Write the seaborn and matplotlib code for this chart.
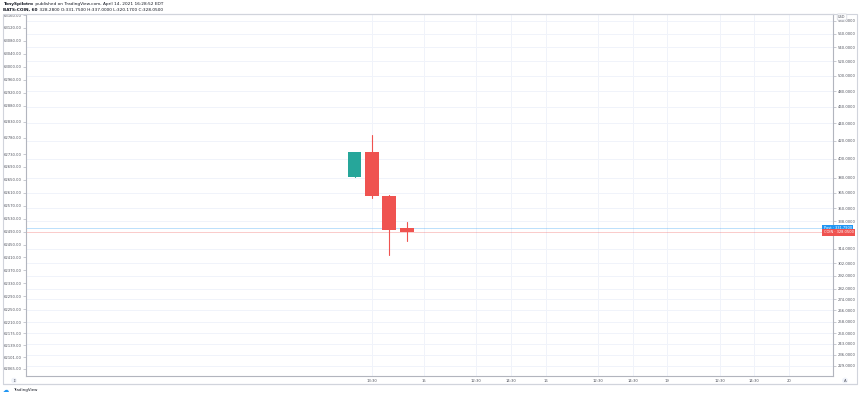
import matplotlib
matplotlib.use('Agg')
import matplotlib.pyplot as plt
import matplotlib.transforms as mtransforms
from matplotlib.patches import Rectangle
import numpy as np
import pandas as pd
import seaborn as sns

# Hourly COIN candles (bar index counted from 14th 9:30)
bar_idx = [3, 4, 5, 6]
opens = [381.0, 407.0, 362.0, 331.75]
highs = [407.2, 426.6, 363.0, 337.0]
lows = [381.0, 360.0, 308.7, 320.17]
closes = [407.2, 362.0, 330.0, 328.05]

post_price = 331.79
last_price = 328.05

# Time scale
xtick_pos = [4, 7, 10, 12, 14, 17, 19, 21, 24, 26, 28]
xtick_labels = ['13:30', '15', '12:30', '14:30', '16', '12:30', '14:30', '19', '12:30', '14:30', '20']

# Right price scale (log)
right_ticks = [580, 560, 540, 520, 500, 480, 460, 440, 420, 400, 380, 365, 350, 338,
               314, 302, 292, 282, 274, 266, 258, 250, 243, 236, 229]

# Left overlay scale
left_ticks = [63160, 63120, 63080, 63040, 63000, 62960, 62920, 62880, 62830, 62780, 62730,
              62690, 62650, 62610, 62570, 62530, 62490, 62450, 62410, 62370, 62330, 62290,
              62250, 62210, 62175, 62139, 62101, 62065]

header_user = 'TonySpilotro'
header_rest = ' published on TradingView.com, April 14, 2021 16:28:52 EDT'
header_sym = 'BATS:COIN, 60'
header_ohlc = ' 328.2800 O:331.7500 H:337.0000 L:320.1700 C:328.0500'

UP = '#26a69a'
DOWN = '#ef5350'
GRID = '#f0f3fa'
AXIS = '#b2b5be'
TXT = '#50535e'
FS = 2.7

sns.set_theme(style = 'white')
plt.rcParams['font.family'] = ['DejaVu Sans']

W, H = 860, 398
fig = plt.figure(figsize = (W / 100, H / 100), dpi = 100)
fig.patch.set_facecolor('white')

# outer frame
fig.add_artist(Rectangle((3 / W, (H - 384) / H), 854 / W, 370 / H, transform = fig.transFigure,
                         fill = False, edgecolor = '#d1d4dc', lw = 0.8))

ax = fig.add_axes([26 / W, (H - 376) / H, (833 - 26) / W, (376 - 14) / H])
ax.set_yscale('log')
ax.set_xlim(-15.9, 30.53)
ax.set_ylim(222.9, 590.7)

# grid
for p in right_ticks:
    ax.axhline(p, color = GRID, lw = 0.7, zorder = 0)
for x in xtick_pos:
    ax.axvline(x, color = GRID, lw = 0.7, zorder = 0)

# price lines
ax.axhline(post_price, color = '#2196f3', alpha = 0.3, lw = 0.7, zorder = 1)
ax.axhline(last_price, color = DOWN, alpha = 0.3, lw = 0.7, zorder = 1)

candles = pd.DataFrame({'x': bar_idx, 'open': opens, 'high': highs, 'low': lows, 'close': closes})
candles['dir'] = np.where(candles['close'] >= candles['open'], 'up', 'down')

# wicks
wick_df = pd.concat([candles[['x', 'dir']].assign(price = candles['high']),
                     candles[['x', 'dir']].assign(price = candles['low'])]).reset_index(drop = True)
sns.lineplot(ax = ax, data = wick_df, x = 'x', y = 'price', units = 'x', hue = 'dir',
             estimator = None, palette = {'up': UP, 'down': DOWN}, lw = 0.8,
             legend = False, zorder = 2, sort = False)

# bodies
body_lo = candles[['open', 'close']].min(axis = 1)
body_hi = candles[['open', 'close']].max(axis = 1)
ax.bar(candles['x'], body_hi - body_lo, bottom = body_lo, width = 0.8,
       color = [UP if d == 'up' else DOWN for d in candles['dir']], lw = 0, zorder = 3)

ax.set_xlabel('')
ax.set_ylabel('')

# left overlay scale (twinx moves the main ticks, so fix sides afterwards)
ax2 = ax.twinx()
ax2.set_ylim(62043.3, 63163.3)
ax2.yaxis.tick_left()
ax2.set_yticks(left_ticks)
ax2.set_yticklabels([f'{v:.2f}' for v in left_ticks])
ax2.tick_params(axis = 'y', length = 2, width = 0.5, color = AXIS, pad = 1.2,
                labelsize = FS, labelcolor = TXT, left = True, right = False,
                labelleft = True, labelright = False)
for s in ax2.spines.values():
    s.set_visible(False)

ax.set_xticks(xtick_pos)
ax.set_xticklabels(xtick_labels)
ax.yaxis.tick_right()
ax.yaxis.set_minor_locator(matplotlib.ticker.NullLocator())
ax.set_yticks(right_ticks)
ax.set_yticklabels([f'{v:.4f}' for v in right_ticks])
ax.tick_params(axis = 'y', which = 'major', length = 2, width = 0.5, color = AXIS, pad = 1.2,
               labelsize = FS, labelcolor = TXT, right = True, left = False,
               labelright = True, labelleft = False)
ax.tick_params(axis = 'x', length = 0, pad = 2.4, labelsize = FS, labelcolor = TXT)
for s in ax.spines.values():
    s.set_color(AXIS)
    s.set_linewidth(0.8)
ax.spines['top'].set_color('#d1d4dc')

# price labels on right scale
trans = mtransforms.blended_transform_factory(ax.transAxes, ax.transData)
ax2.text(0.9885, post_price, 'Post · 331.7900', transform = trans, ha = 'left', va = 'center',
         fontsize = 2.6, color = 'white', zorder = 10, clip_on = False,
         bbox = dict(boxstyle = 'square,pad=0.35', fc = '#2196f3', ec = 'none'))
ax2.text(0.9885, last_price, 'COIN · 328.0500', transform = trans, ha = 'left', va = 'center',
         fontsize = 2.6, color = 'white', zorder = 10, clip_on = False,
         bbox = dict(boxstyle = 'square,pad=0.35', fc = DOWN, ec = 'none'))

# currency badge
fig.text(842 / W, 1 - 17 / H, 'USD', ha = 'center', va = 'center', fontsize = 2.5, color = TXT,
         bbox = dict(boxstyle = 'round,pad=0.3', fc = 'white', ec = '#d1d4dc', lw = 0.5))

# bottom corner buttons
fig.text(14 / W, 1 - 380.5 / H, '⇕', ha = 'center', va = 'center', fontsize = 3, color = TXT,
         bbox = dict(boxstyle = 'circle,pad=0.2', fc = '#f0f3fa', ec = 'none'))
fig.text(845 / W, 1 - 380.5 / H, 'A', ha = 'center', va = 'center', fontsize = 2.8, color = TXT,
         bbox = dict(boxstyle = 'circle,pad=0.25', fc = '#f0f3fa', ec = 'none'))
fig.add_artist(plt.Line2D([3 / W, 857 / W], [1 - 384 / H, 1 - 384 / H], color = '#d1d4dc', lw = 0.8))

# header
t = fig.text(3 / W, 1 - 4 / H, header_user, ha = 'left', va = 'center', fontsize = 3.1,
             color = '#131722', weight = 'bold')
fig.canvas.draw()
bb = t.get_window_extent()
fig.text(bb.x1 / W + 0.001, 1 - 4 / H, header_rest, ha = 'left', va = 'center', fontsize = 3.1,
         color = '#131722')
t2 = fig.text(3 / W, 1 - 10 / H, header_sym, ha = 'left', va = 'center', fontsize = 3.1,
              color = '#131722', weight = 'bold')
fig.canvas.draw()
bb2 = t2.get_window_extent()
fig.text(bb2.x1 / W + 0.001, 1 - 10 / H, header_ohlc, ha = 'left', va = 'center', fontsize = 3.1,
         color = '#131722')

# footer logo
fig.text(3 / W, 1 - 390.5 / H, '☁', ha = 'left', va = 'center', fontsize = 4.5, color = '#2196f3')
fig.text(13 / W, 1 - 390.5 / H, 'TradingView', ha = 'left', va = 'center', fontsize = 2.9,
         color = '#131722')

fig.savefig('out.png', dpi = 100, facecolor = 'white')
plt.close()
